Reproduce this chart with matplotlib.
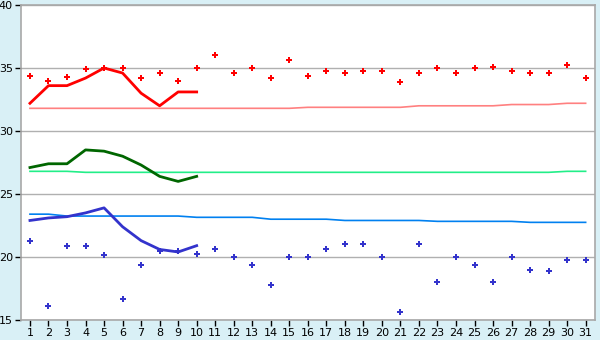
import numpy as np
import matplotlib
matplotlib.use('Agg')
import matplotlib.pyplot as plt

days = list(range(1, 32))

t_max = [34.4, 34.0, 34.3, 34.9, 35.0, 35.0, 34.2, 34.6, 34.0, 35.0,
         36.0, 34.6, 35.0, 34.2, 35.6, 34.4, 34.8, 34.6, 34.8, 34.8,
         33.9, 34.6, 35.0, 34.6, 35.0, 35.1, 34.8, 34.6, 34.6, 35.2, 34.2]
t_min = [21.25, 16.1, 20.9, 20.9, 20.15, 16.7, 19.4, 20.5, 20.5, 20.2,
         20.6, 20.0, 19.4, 17.8, 20.0, 20.0, 20.6, 21.0, 21.0, 20.0,
         15.6, 21.0, 18.0, 20.0, 19.4, 18.0, 20.0, 19.0, 18.9, 19.8, 19.8]

avg_days = list(range(1, 11))
avg_max = [32.2, 33.6, 33.6, 34.2, 35.0, 34.6, 33.0, 32.0, 33.1, 33.1]
avg_mean = [27.1, 27.4, 27.4, 28.5, 28.4, 28.0, 27.3, 26.4, 26.0, 26.4]
avg_min = [22.9, 23.1, 23.2, 23.5, 23.9, 22.4, 21.3, 20.6, 20.4, 20.9]

norm_max = [31.8] * 15 + [31.88] * 6 + [32.0] * 5 + [32.1] * 3 + [32.2] * 2
norm_mean = [26.8] * 3 + [26.72] * 26 + [26.8] * 2
norm_min = [23.4] * 2 + [23.25] * 7 + [23.15] * 4 + [23.0] * 4 + [22.9] * 5 + [22.83] * 5 + [22.75] * 4

fig = plt.figure(figsize=(6, 3.4), dpi=100, facecolor='#d9f0f6')
ax = fig.add_axes([0.0345, 0.0588, 0.957, 0.9265])
ax.set_facecolor('white')

ax.set_xlim(0.5, 31.5)
ax.set_ylim(15, 40)
ax.set_yticks([15, 20, 25, 30, 35, 40])
ax.set_xticks(days)
ax.grid(axis='y', color='#b0b0b0', linewidth=1)
ax.set_axisbelow(True)

for s in ax.spines.values():
    s.set_color('#a8a8a8')
    s.set_linewidth(1.2)
ax.tick_params(axis='both', direction='out', length=4, width=1, color='black', labelsize=8, pad=1.5)

# normals
ax.plot(days, norm_max, color='#ff8080', lw=1.2)
ax.plot(days, norm_mean, color='#22ee88', lw=1.2)
ax.plot(days, norm_min, color='#0080f0', lw=1.2)

# running averages
ax.plot(avg_days, avg_max, color='#ff0000', lw=2)
ax.plot(avg_days, avg_mean, color='#006600', lw=2)
ax.plot(avg_days, avg_min, color='#3333cc', lw=2)

# daily values
ax.plot(days, t_max, ls='none', marker='P', ms=4.5, color='#ff0000', mew=0)
ax.plot(days, t_min, ls='none', marker='P', ms=4.5, color='#3333cc', mew=0)

fig.savefig('out.png', dpi=100, facecolor=fig.get_facecolor())
